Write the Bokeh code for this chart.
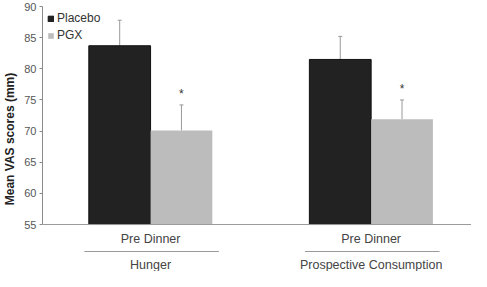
from bokeh.plotting import figure
from bokeh.models import Range1d, FixedTicker, Whisker, ColumnDataSource, Span, TeeHead, Legend, LegendItem
from bokeh.core.properties import value
from bokeh.embed import file_html
from bokeh.resources import INLINE

# ---- data ----
groups = ["Hunger", "Prospective Consumption"]
timepoints = ["Pre Dinner", "Pre Dinner"]
placebo = [83.7, 81.5]
placebo_sd = [4.1, 3.7]
pgx = [70.1, 71.9]
pgx_sd = [4.1, 3.1]
significance = ["*", "*"]
y_ticks = [55, 60, 65, 70, 75, 80, 85, 90]
y_base = 55

# ---- layout constants ----
centers = [1, 2]
W = 0.28
FONT = "Liberation Sans"

p = figure(width=471, height=271,
           x_range=Range1d(0.51, 2.455), y_range=Range1d(47.46, 90),
           output_backend="svg", toolbar_location=None,
           min_border_top=6, min_border_bottom=0, min_border_right=0, min_border_left=0)

p.xaxis.visible = False
p.xgrid.visible = False
p.ygrid.visible = False
p.outline_line_color = None

# y axis
ax = p.yaxis[0]
ax.bounds = (y_base, 90)
ax.ticker = FixedTicker(ticks=y_ticks)
ax.minor_tick_line_color = None
ax.major_tick_in = 0
ax.major_tick_out = 3
ax.axis_line_color = "#8a8a8a"
ax.major_tick_line_color = "#8a8a8a"
ax.major_label_text_font = FONT
ax.major_label_text_font_size = "11px"
ax.major_label_text_color = "#555555"
ax.major_label_standoff = 3
ax.axis_label = "Mean VAS scores (mm)"
ax.axis_label_text_font = FONT
ax.axis_label_text_font_style = "bold"
ax.axis_label_text_font_size = "12px"
ax.axis_label_text_color = "#222222"
ax.axis_label_standoff = 4

# baseline
p.add_layout(Span(location=y_base, dimension="width", line_color="#9a9a9a", line_width=1))

# bars
x_pl = [c - W / 2 for c in centers]
x_pg = [c + W / 2 for c in centers]
r_pl = p.vbar(x=x_pl, top=placebo, bottom=y_base, width=W,
              fill_color="#222222", line_color="#111111", line_width=1)
r_pg = p.vbar(x=x_pg, top=pgx, bottom=y_base, width=W,
              fill_color="#bcbcbc", line_color=None)

# error bars (upper only)
for xs, m, sd in [(x_pl, placebo, placebo_sd), (x_pg, pgx, pgx_sd)]:
    src = ColumnDataSource(dict(x=xs, lower=m, upper=[a + b for a, b in zip(m, sd)]))
    p.add_layout(Whisker(base="x", lower="lower", upper="upper", source=src,
                         dimension="height", line_color="#999999", line_width=1,
                         upper_head=TeeHead(size=4, line_color="#999999", line_width=1),
                         lower_head=None))

# significance asterisks
p.text(x=x_pg, y=[a + b for a, b in zip(pgx, pgx_sd)], text=significance,
       y_offset=-11, text_align="center", text_baseline="middle",
       text_font=value(FONT), text_font_size="12px", text_color="#333333")

# category labels below the axis
p.text(x=centers, y=52.75, text=timepoints, text_align="center", text_baseline="middle",
       text_font=value(FONT), text_font_size="12.5px", text_color="#444444")
p.segment(x0=[c - 0.3 for c in centers], x1=[c + 0.31 for c in centers],
          y0=50.67, y1=50.67, line_color="#9a9a9a", line_width=1)
p.text(x=centers, y=48.45, text=groups, text_align="center", text_baseline="middle",
       text_font=value(FONT), text_font_size="12.5px", text_color="#444444")

legend = Legend(items=[LegendItem(label="Placebo", renderers=[r_pl]),
                       LegendItem(label="PGX", renderers=[r_pg])],
                location="top_left", glyph_width=7, glyph_height=7,
                label_standoff=3, label_height=12, spacing=3, padding=0, margin=5,
                border_line_color=None, background_fill_alpha=0,
                label_text_font=FONT, label_text_font_size="12px",
                label_text_color="#333333")
p.add_layout(legend)

open("out.html", "w").write(file_html(p, INLINE))
